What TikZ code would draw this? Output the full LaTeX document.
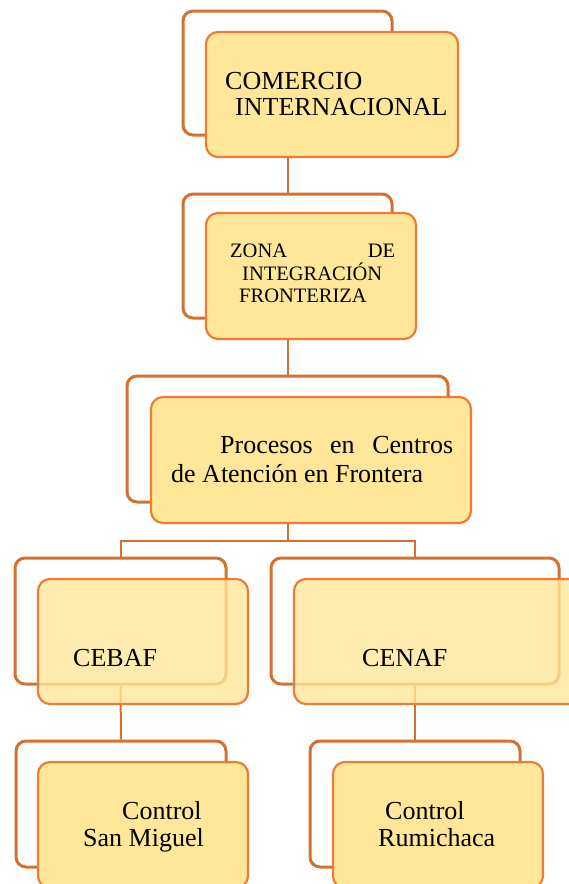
\documentclass[tikz,border=0pt]{standalone}
\usepackage{fontspec}
\setmainfont{Liberation Serif}
\usetikzlibrary{positioning}

\definecolor{framedark}{RGB}{214,112,46}
\definecolor{boxline}{RGB}{237,125,49}
\definecolor{boxfill}{RGB}{255,230,153}

\begin{document}
\begin{tikzpicture}[x=1pt,y=-1pt]
        % Setup the styles for the boxes
        \tikzset{back style/.style={rectangle,
                                    rounded corners=10pt,
                                    draw=framedark,
                                    line width=3pt,
                                    inner sep=0pt},
                 front style/.style={rectangle,
                                    rounded corners=12pt,
                                    draw=boxline,
                                    line width=2.2pt,
                                    fill=boxfill,
                                    inner sep=0pt},
                 see through/.style={fill opacity=0.8},
                 label style/.style={anchor=base west,
                                    inner sep=0pt,
                                    font=\fontsize{26}{29}\selectfont},
                 small label/.style={label style,
                                    font=\fontsize{20.5}{23}\selectfont},
                 link/.style={draw=framedark, line width=2pt}}

        \useasboundingbox (0,0) rectangle (569,884);

        % Draw the back frames
        \node[back style, minimum width=209pt, minimum height=124pt] at (287.5, 73) (comercioback) {};
        \node[back style, minimum width=209pt, minimum height=124pt] at (287.5, 256) (zonaback) {};
        \node[back style, minimum width=321pt, minimum height=126pt] at (287.5, 439) (procesosback) {};
        \node[back style, minimum width=211pt, minimum height=126pt] at (120.5, 621) (cebafback) {};
        \node[back style, minimum width=288pt, minimum height=126pt] at (415, 621) (cenafback) {};
        \node[back style, minimum width=210pt, minimum height=126pt] at (121, 804) (miguelback) {};
        \node[back style, minimum width=210pt, minimum height=126pt] at (415, 804) (rumiback) {};
        \coordinate (fork) at (287.5, 541);

        % Connect the frames
        \draw[link] (comercioback.south) -- (zonaback.north);
        \draw[link] (zonaback.south) -- (procesosback.north);
        \draw[link] (procesosback.south) -- (fork);
        \draw[link] (cebafback.north) |- (fork) -| (cenafback.north);
        \draw[link] (cebafback.south) -- (miguelback.north);
        \draw[link] (cenafback.south) -- (rumiback.north);

        % Draw the front boxes
        \node[front style, minimum width=252pt, minimum height=125pt] at (332, 94.5) (comercio) {};
        \node[front style, minimum width=210pt, minimum height=126pt] at (311, 276) (zona) {};
        \node[front style, minimum width=320pt, minimum height=126pt] at (311, 460) (procesos) {};
        \node[front style, see through, minimum width=210pt, minimum height=125pt] at (143, 641.5) (cebaf) {};
        \node[front style, see through, minimum width=288pt, minimum height=125pt] at (438, 641.5) (cenaf) {};
        \node[front style, minimum width=210pt, minimum height=126pt] at (143, 825) (miguel) {};
        \node[front style, minimum width=210pt, minimum height=126pt] at (438, 825) (rumi) {};

        % Texts
        \node[label style] at (225, 89) (comercioa) {COMERCIO};
        \node[label style] at (235, 115) (comerciob) {INTERNACIONAL};
        \node[small label] at (230, 257) (zonaa) {\makebox[165pt][s]{ZONA\hfill DE}};
        \node[small label] at (242, 280) (zonab) {INTEGRACIÓN};
        \node[small label] at (239, 302) (zonac) {FRONTERIZA};
        \node[label style] at (220, 453) (procesosa) {\makebox[233pt][s]{Procesos\hfill en\hfill Centros}};
        \node[label style] at (171, 482) (procesosb) {de Atención en Frontera};
        \node[label style] at (73, 666) (cebaftext) {CEBAF};
        \node[label style] at (362, 666) (cenaftext) {CENAF};
        \node[label style] at (122, 819) (miguela) {Control};
        \node[label style] at (83, 846) (miguelb) {San Miguel};
        \node[label style] at (385, 819) (rumia) {Control};
        \node[label style] at (378, 846) (rumib) {Rumichaca};
\end{tikzpicture}
\end{document}
